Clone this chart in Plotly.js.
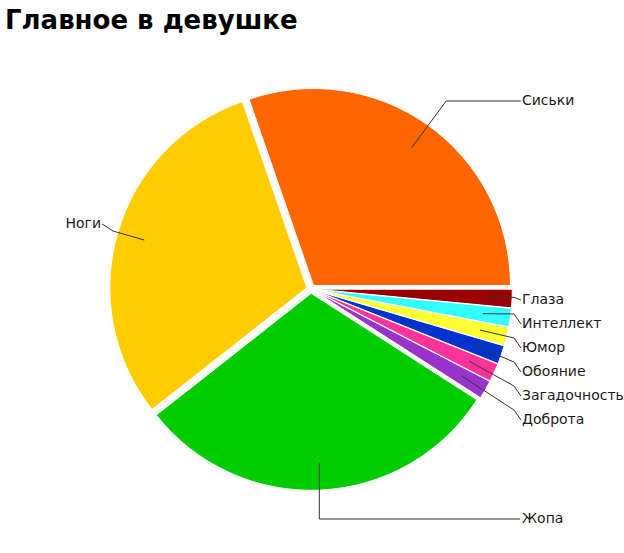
<!DOCTYPE html>
<html>
<head>
<meta charset="utf-8">
<script src="https://cdn.plot.ly/plotly-3.0.1.min.js"></script>
<style>
  html, body { margin: 0; padding: 0; background: #fff; }
  #chart { width: 624px; height: 553px; }
</style>
</head>
<body>
<div id="chart"></div>
<script>
// slices, clockwise from 3 o'clock
const labels = ['Глаза', 'Интеллект', 'Юмор', 'Обояние', 'Загадочность', 'Доброта', 'Жопа', 'Ноги', 'Сиськи']
const values = [1, 1, 1, 1, 1, 1, 20, 20, 20]
const colors = ['#990000', '#33ffff', '#ffff33', '#0033cc', '#ff3399', '#9933cc', '#00cc00', '#ffcc00', '#ff6600']

const W = 624
const H = 553
const cx = 311
const cy = 289
const R = 197
const PULL = 0.022

let total = values.reduce((a, b) => a + b, 0)
let cum = 0
let mids = values.map(v => {
    let m = -(cum + v / 2) / total * 2 * Math.PI
    cum += v
    return m
})

// label placement
let tx = [], ty = [], tpos = [], paths = []
let row = 0
values.forEach((v, i) => {
    let m = mids[i]
    let d = R * (PULL + 0.86)
    let ax = cx + d * Math.cos(m)
    let ay = cy - d * Math.sin(m)
    let pts
    if (v / total < 0.05) {
        let ly = 300 + 24 * row++
        pts = [[ax, ay], [514, Math.max(ay, ly - 10)], [521, ly]]
        tx.push(522); ty.push(ly); tpos.push('middle right')
    }
    else if (Math.sin(m) > 0.5) {
        let ly = 101
        pts = [[ax, ay], [ax + (ay - ly) * 0.74, ly], [521, ly]]
        tx.push(522); ty.push(ly); tpos.push('middle right')
    }
    else if (Math.cos(m) < -0.5) {
        let ly = 224
        pts = [[ax, ay], [113, 231], [102, ly]]
        tx.push(101); ty.push(ly); tpos.push('middle left')
    }
    else {
        let ly = 519
        pts = [[ax, ay], [ax, ly], [520, ly]]
        tx.push(522); ty.push(ly); tpos.push('middle right')
    }
    paths.push({
        type: 'path', xref: 'x', yref: 'y', layer: 'above',
        path: 'M' + pts.map(p => p[0].toFixed(1) + ',' + p[1].toFixed(1)).join('L'),
        line: { color: '#333', width: 1 }
    })
})

let S = 2 * R * (1 + PULL)

let pie = {
    type: 'pie',
    labels: labels,
    values: values,
    sort: false,
    direction: 'clockwise',
    rotation: 90,
    pull: PULL,
    textinfo: 'none',
    hoverinfo: 'label+percent',
    marker: { colors: colors, line: { color: '#fff', width: 1 } },
    domain: {
        x: [(cx - S / 2) / W, (cx + S / 2) / W],
        y: [(H - cy - S / 2) / H, (H - cy + S / 2) / H]
    },
    showlegend: false
}

let text = {
    type: 'scatter',
    mode: 'text',
    x: tx,
    y: ty,
    text: labels,
    textposition: tpos,
    textfont: { family: 'DejaVu Sans, Verdana, sans-serif', size: 14, color: '#1a1a1a' },
    hoverinfo: 'skip',
    showlegend: false
}

let layout = {
    width: W,
    height: H,
    margin: { l: 0, r: 0, t: 0, b: 0 },
    paper_bgcolor: '#fff',
    plot_bgcolor: 'rgba(0,0,0,0)',
    title: {
        text: 'Главное в девушке',
        x: 5 / W, xanchor: 'left',
        y: 1 - 20 / H, yanchor: 'middle',
        font: { family: 'DejaVu Sans, Verdana, sans-serif', size: 26, weight: 'bold', color: '#000' }
    },
    xaxis: { range: [0, W], visible: false, fixedrange: true },
    yaxis: { range: [H, 0], visible: false, fixedrange: true },
    shapes: paths
}

Plotly.newPlot('chart', [pie, text], layout, { displayModeBar: false, staticPlot: true })
</script>
</body>
</html>
